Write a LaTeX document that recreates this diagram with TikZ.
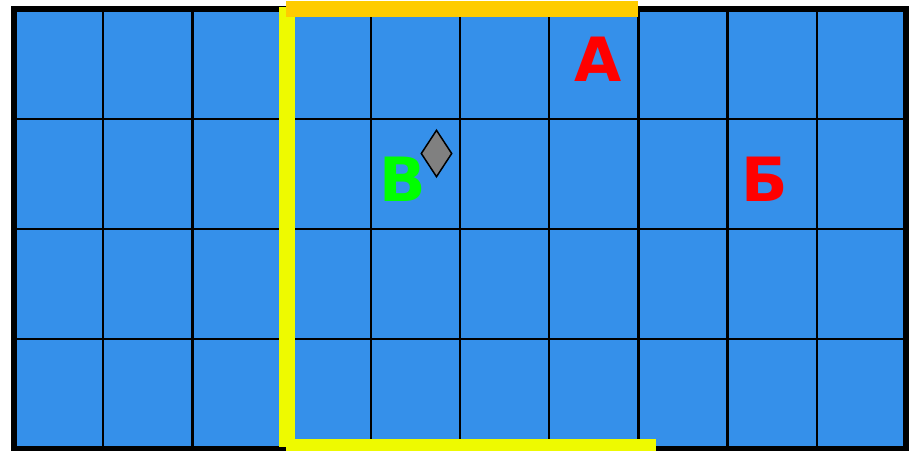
\documentclass[tikz,border=0pt]{standalone}
\usepackage{fontspec}
\newfontfamily\letterfont{DejaVu Sans}[BoldFont={DejaVu Sans Bold}]
\usetikzlibrary{shapes.geometric}
\definecolor{cellblue}{RGB}{53,144,234}
\definecolor{baryellow}{RGB}{255,204,0}
\definecolor{baryg}{RGB}{238,250,0}
\definecolor{lettergreen}{RGB}{0,255,0}
\definecolor{letterred}{RGB}{255,0,0}
\tikzset{
  gridline/.style={black, line width=2.5pt},
  borderline/.style={black, line width=6pt},
  bigletter/.style={anchor=base, inner sep=0pt, font=\letterfont\bfseries\fontsize{61}{61}\selectfont},
  marker/.style={diamond, draw=black, fill=gray, line width=1.5pt, minimum width=31pt, minimum height=47pt, inner sep=0pt, aspect=0.66},
}
\begin{document}
\begin{tikzpicture}[x=1pt,y=-1pt]
\useasboundingbox (0,0) rectangle (912,450);
\clip (0,0) rectangle (912,450);
\fill[cellblue] (14,9) rectangle (906,449);
\foreach \i in {1,...,9} {
  \draw[gridline] ({14+89.2*\i},9) -- ({14+89.2*\i},449);
}
\foreach \j in {1,2,3} {
  \draw[gridline] (14,{9+110*\j}) -- (906,{9+110*\j});
}
\draw[borderline] (14,9) rectangle (906,449);
% yellow bars
\draw[baryg, line width=16pt] (287,7) -- (287,447);
\draw[baryg, line width=16pt] (286,447) -- (656,447);
\draw[baryellow, line width=16pt] (286,9) -- (638,9);
% letters
\node[bigletter, text=letterred] (A) at (598,81) {А};
\node[bigletter, text=letterred] (B) at (765,201) {Б};
\node[bigletter, text=lettergreen] (V) at (403,201) {В};
\node[marker] (D) at (436.5,153.5) {};
\end{tikzpicture}
\end{document}
